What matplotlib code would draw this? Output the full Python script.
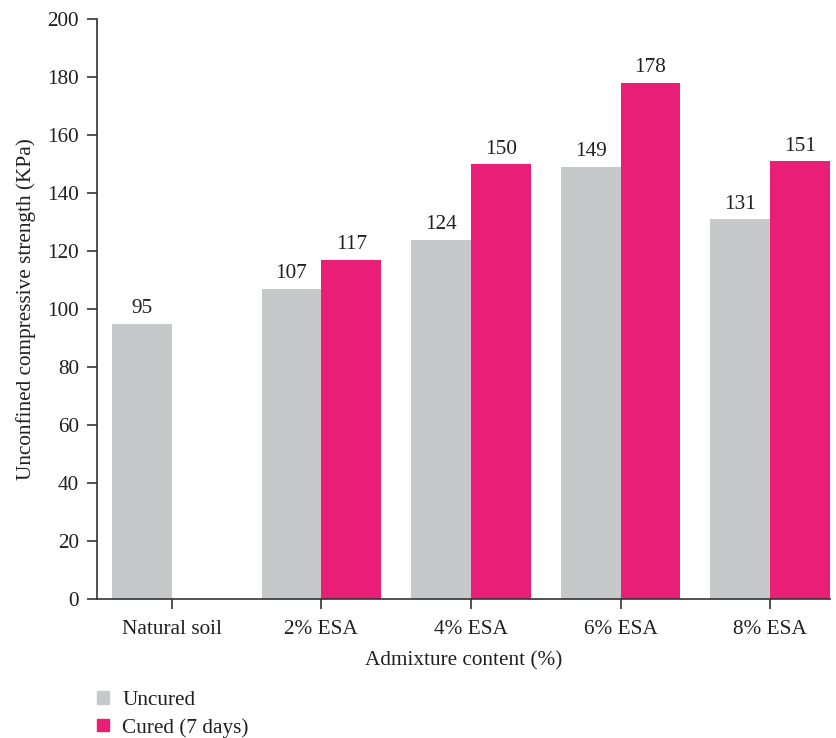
import matplotlib.pyplot as plt
import numpy as np
from matplotlib.patches import Patch

plt.rcParams['font.family'] = ['Liberation Serif', 'DejaVu Serif']

# dane
categories = ['Natural soil', '2% ESA', '4% ESA', '6% ESA', '8% ESA']
uncured = [95, 107, 124, 149, 131]
cured = [None, 117, 150, 178, 151]

gray = '#c7c8ca'
pink = '#e91e77'
txt = '#231f20'
fs = 15.3

fig = plt.figure(figsize=(8.36, 7.38), dpi=100)
ax = fig.add_axes([0.116, 0.1883, 0.8768, 0.7853])

x = np.arange(len(categories))
w = 0.4
ax.bar(x - w / 2, uncured, w, color=gray)
for xi, v in zip(x, uncured):
    ax.text(xi - w / 2, v + 2, str(v), ha='center', va='bottom', fontsize=fs, color=txt)
for xi, v in zip(x, cured):
    if v is None:
        continue
    ax.bar(xi + w / 2, v, w, color=pink)
    ax.text(xi + w / 2, v + 2, str(v), ha='center', va='bottom', fontsize=fs, color=txt)

ax.set_xlim(-0.5, 4.4)
ax.set_ylim(0, 200)
ax.set_yticks(range(0, 201, 20))
ax.set_xticks(x)
ax.set_xticklabels(categories)
ax.tick_params(axis='both', labelsize=fs, colors='#333333', labelcolor=txt, length=7, width=1.2)
ax.tick_params(axis='x', pad=8)
ax.tick_params(axis='y', pad=6)
for s in ['top', 'right']:
    ax.spines[s].set_visible(False)
for s in ['left', 'bottom']:
    ax.spines[s].set_color('#333333')
    ax.spines[s].set_linewidth(1.2)

ax.set_xlabel('Admixture content (%)', fontsize=fs, color=txt, labelpad=9)
ax.set_ylabel('Unconfined compressive strength (KPa)', fontsize=fs, color=txt, labelpad=8)

# legenda pod wykresem
handles = [Patch(color=gray, label='Uncured'), Patch(color=pink, label='Cured (7 days)')]
fig.legend(handles=handles, loc='upper left', bbox_to_anchor=(0.116, 0.064),
           frameon=False, fontsize=fs, handlelength=0.55, handleheight=0.55,
           handletextpad=0.65, labelspacing=0.38, labelcolor=txt,
           borderaxespad=0, borderpad=0)

plt.savefig('out.png', dpi=100)
